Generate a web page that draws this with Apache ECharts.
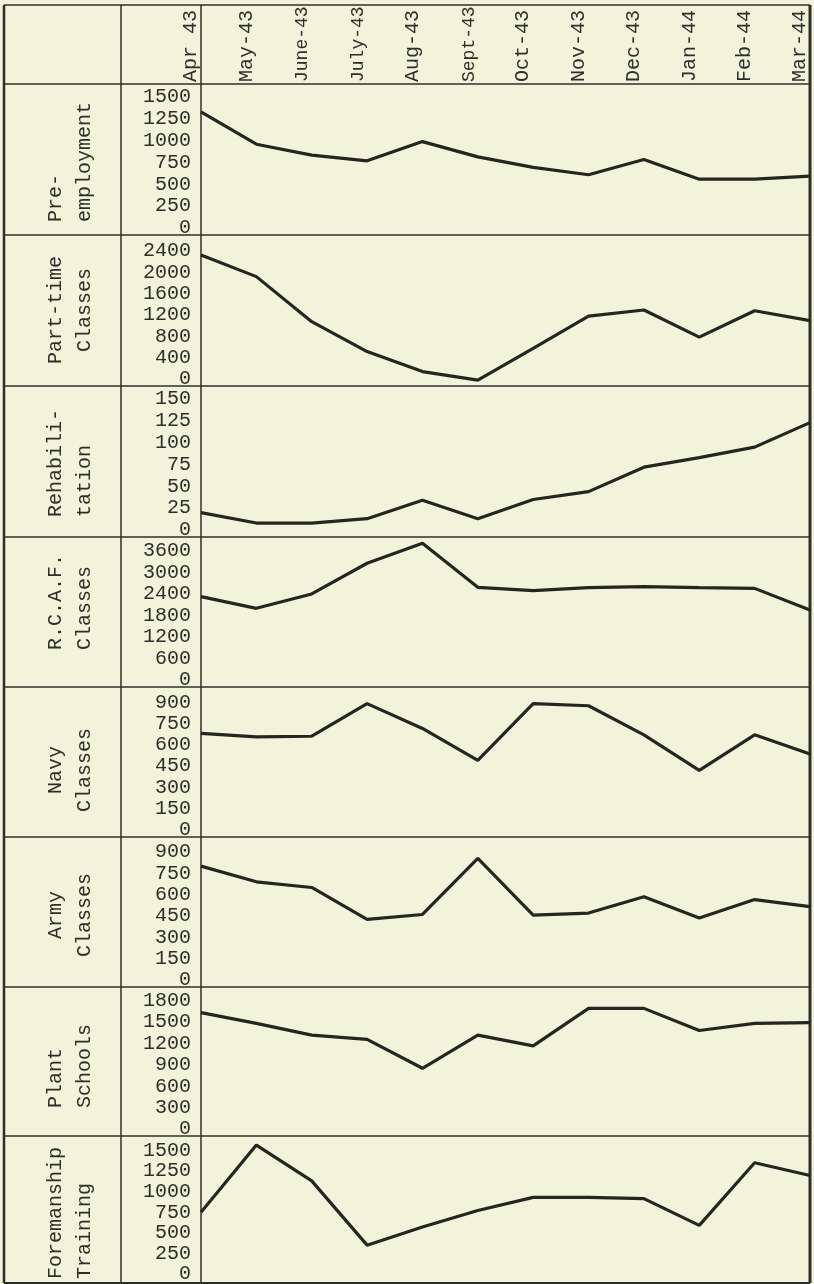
<!DOCTYPE html>
<html><head><meta charset="utf-8">
<script src="https://cdn.jsdelivr.net/npm/echarts@6/dist/echarts.min.js"></script>
<style>html,body{margin:0;padding:0;background:#f1f3db}#c{width:814px;height:1284px}</style>
</head><body><div id="c"></div>
<script>
// ---- data ----
const months = ['Apr 43','May-43','June-43','July-43','Aug-43','Sept-43','Oct-43','Nov-43','Dec-43','Jan-44','Feb-44','Mar-44'];
const preEmployment = [1410, 1040, 915, 850, 1070, 895, 775, 690, 865, 640, 640, 675];
const partTimeClasses = [2455, 2050, 1205, 645, 270, 110, 705, 1310, 1425, 915, 1410, 1225];
const rehabilitation = [28, 16, 16, 21, 42, 21, 43, 52, 80, 91, 103, 131];
const rcafClasses = [2515, 2190, 2590, 3445, 4000, 2775, 2680, 2765, 2795, 2765, 2745, 2145];
const navyClasses = [730, 705, 710, 940, 765, 540, 940, 925, 720, 470, 720, 585];
const armyClasses = [850, 740, 700, 475, 510, 905, 505, 520, 635, 485, 615, 565];
const plantSchools = [1730, 1580, 1415, 1355, 950, 1415, 1265, 1790, 1790, 1480, 1580, 1590];
const foremanshipTraining = [835, 1650, 1215, 435, 655, 855, 1015, 1015, 1000, 675, 1435, 1280];
const panelNames = ['Pre-\nemployment','Part-time\nClasses','Rehabili-\ntation','R.C.A.F.\nClasses','Navy\nClasses','Army\nClasses','Plant\nSchools','Foremanship\nTraining'];
const tickSteps = [250, 400, 25, 600, 150, 150, 300, 250];
const tickTops = [1500, 2400, 150, 3600, 900, 900, 1800, 1500];

const seriesData = [preEmployment, partTimeClasses, rehabilitation, rcafClasses, navyClasses, armyClasses, plantSchools, foremanshipTraining];

// ---- layout / style ----
const FONT = '"Liberation Mono", "DejaVu Sans Mono", monospace';
const INK = '#2f2f29';
const LINE = '#262621';
const bounds = [84, 235, 386, 537, 687, 837, 987, 1136, 1283];
const frame = {left: 4, top: 5, right: 810, bottom: 1283, col1: 121, col2: 201};
const axisMax = [1730, 2830, 173, 4175, 1057, 1055, 2090, 1760];
const nameLayout = [
  {align: 'left', y: 222}, {align: 'center', y: 310}, {align: 'left', y: 517}, {align: 'left', y: 650},
  {align: 'center', y: 770}, {align: 'center', y: 915}, {align: 'left', y: 1108}, {align: 'left', y: 1279}
];

const grids = [], xAxes = [], yAxes = [], series = [];
seriesData.forEach((data, i) => {
  grids.push({left: frame.col2, right: 814 - frame.right, top: bounds[i], height: bounds[i + 1] - bounds[i], show: false});
  xAxes.push({
    type: 'category', gridIndex: i, data: months, boundaryGap: false,
    position: i === 0 ? 'top' : 'bottom',
    axisLine: {show: false}, axisTick: {show: false}, splitLine: {show: false},
    axisLabel: i === 0 ? {
      show: true, interval: 0, rotate: 90, margin: 2, align: 'left', verticalAlign: 'bottom',
      fontFamily: FONT, fontSize: 18, color: INK,
      formatter: v => v.length > 6 ? '{s|' + v + '}' : '{l|' + v + '}',
      rich: {
        s: {fontFamily: FONT, fontSize: 18, color: INK},
        l: {fontFamily: FONT, fontSize: 20, color: INK}
      }
    } : {show: false}
  });
  yAxes.push({
    type: 'value', gridIndex: i, min: 0, max: axisMax[i], interval: tickSteps[i],
    axisLine: {show: false}, axisTick: {show: false}, splitLine: {show: false},
    axisLabel: {
      show: true, margin: 10, fontFamily: FONT, fontSize: 20, color: INK, verticalAlign: 'bottom', lineHeight: 14,
      formatter: v => (v <= tickTops[i] && v % tickSteps[i] === 0) ? String(v) : ''
    }
  });
  series.push({
    type: 'line', xAxisIndex: i, yAxisIndex: i, data: data, symbol: 'none',
    lineStyle: {color: LINE, width: 3.2}, silent: true
  });
});

const graphics = [];
function hline(y, w) { graphics.push({type: 'line', shape: {x1: frame.left, y1: y, x2: frame.right, y2: y}, style: {stroke: INK, lineWidth: w}}); }
function vline(x, w) { graphics.push({type: 'line', shape: {x1: x, y1: frame.top, x2: x, y2: frame.bottom}, style: {stroke: INK, lineWidth: w}}); }
hline(frame.top, 1.5);
bounds.forEach((y, i) => hline(y, i === bounds.length - 1 ? 2 : 1.5));
vline(frame.left, 2.5); vline(frame.col1, 1.5); vline(frame.col2, 1.5); vline(frame.right, 3);
panelNames.forEach((name, i) => {
  graphics.push({
    type: 'text', x: 70, y: nameLayout[i].y, rotation: Math.PI / 2,
    style: {text: name, fontFamily: FONT, fontSize: 20, fill: INK, align: nameLayout[i].align, verticalAlign: 'middle', lineHeight: 29}
  });
});

const chart = echarts.init(document.getElementById('c'), null, {renderer: 'canvas'});
chart.setOption({
  backgroundColor: '#f1f3db',
  animation: false,
  grid: grids, xAxis: xAxes, yAxis: yAxes, series: series,
  graphic: graphics
});
</script></body></html>
